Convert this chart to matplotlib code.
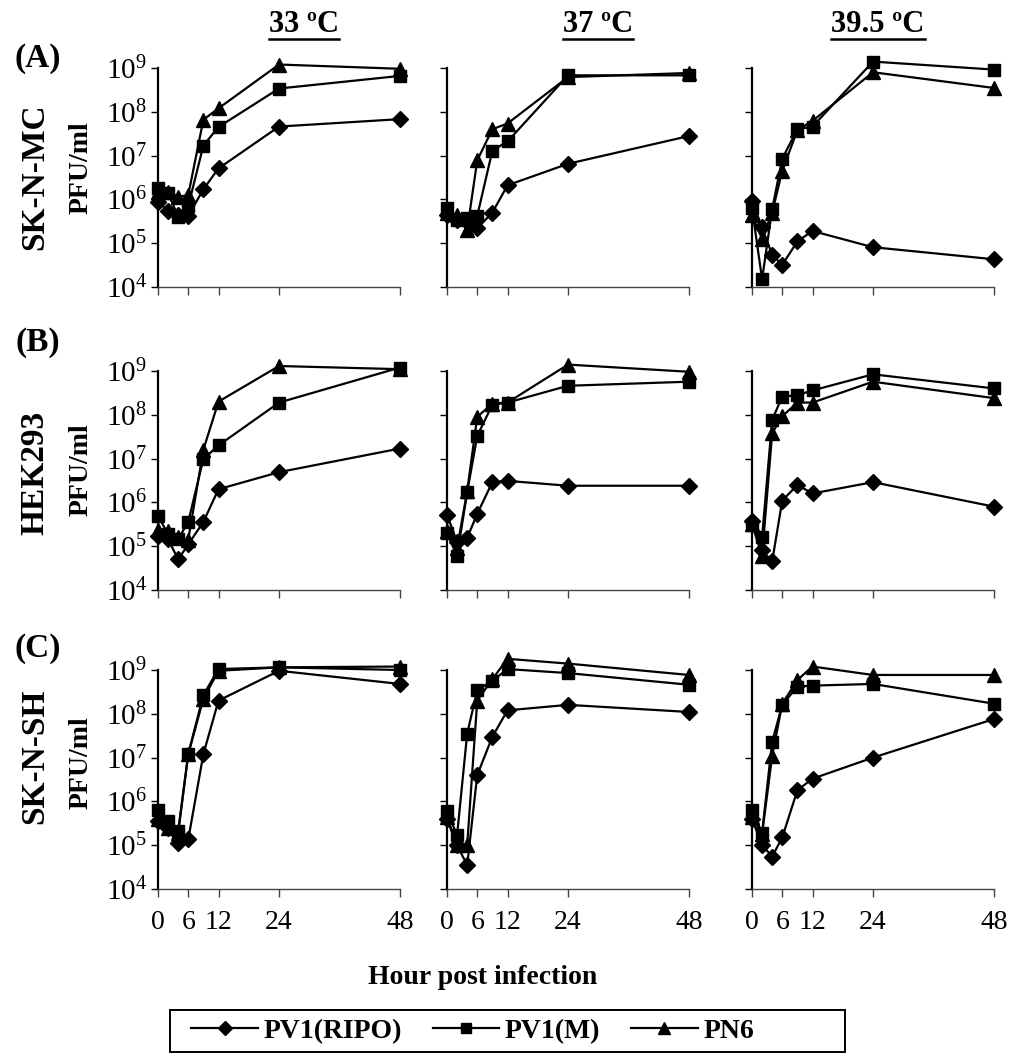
import numpy as np
import matplotlib
matplotlib.use("Agg")
import matplotlib.pyplot as plt
from matplotlib.lines import Line2D
from matplotlib.patches import Rectangle

plt.rcParams['font.family'] = ['Liberation Serif', 'DejaVu Serif']
plt.rcParams['mathtext.fontset'] = 'custom'
plt.rcParams['mathtext.rm'] = 'Liberation Serif'
plt.rcParams['mathtext.it'] = 'Liberation Serif'

# sampling times (hours post infection)
hours = [0, 2, 4, 6, 9, 12, 24, 48]
xticks = [0, 6, 12, 24, 48]

temps = ['33 ºC', '37 ºC', '39.5 ºC']
cells = ['SK-N-MC', 'HEK293', 'SK-N-SH']
panels = ['(A)', '(B)', '(C)']
series_names = ['PV1(RIPO)', 'PV1(M)', 'PN6']

# SK-N-MC
ripo_mc_33 = [8.9e5, 5.5e5, 4.3e5, 4.2e5, 1.7e6, 5.1e6, 4.6e7, 6.8e7]
m_mc_33 = [1.8e6, 1.4e6, 4.0e5, 7.0e5, 1.7e7, 4.5e7, 3.4e8, 6.6e8]
pn6_mc_33 = [1.5e6, 1.5e6, 1.15e6, 1.25e6, 6.6e7, 1.2e8, 1.2e9, 9.6e8]
ripo_mc_37 = [4.4e5, 3.4e5, 3.0e5, 2.2e5, 5.0e5, 2.1e6, 6.5e6, 2.8e7]
m_mc_37 = [6.2e5, 3.4e5, 3.7e5, 4.2e5, 1.3e7, 2.1e7, 6.8e8, 6.8e8]
pn6_mc_37 = [5.0e5, 4.4e5, 2.0e5, 7.8e6, 4.0e7, 5.4e7, 6.2e8, 7.7e8]
ripo_mc_39 = [9.3e5, 2.3e5, 5.4e4, 3.2e4, 1.1e5, 1.9e5, 8.1e4, 4.3e4]
m_mc_39 = [6.3e5, 1.5e4, 6.0e5, 8.5e6, 4.0e7, 4.6e7, 1.4e9, 9.2e8]
pn6_mc_39 = [4.3e5, 1.26e5, 5.0e5, 4.5e6, 3.8e7, 6.2e7, 8.0e8, 3.5e8]

# HEK293
ripo_hek_33 = [1.7e5, 1.45e5, 5.0e4, 1.1e5, 3.6e5, 2.0e6, 4.9e6, 1.7e7]
m_hek_33 = [4.9e5, 1.9e5, 1.45e5, 3.6e5, 9.8e6, 2.0e7, 1.9e8, 1.2e9]
pn6_hek_33 = [2.3e5, 2.2e5, 1.6e5, 1.4e5, 1.6e7, 2.0e8, 1.3e9, 1.1e9]
ripo_hek_37 = [5.2e5, 1.25e5, 1.55e5, 5.5e5, 2.9e6, 3.1e6, 2.4e6, 2.4e6]
m_hek_37 = [2.0e5, 6.0e4, 1.7e6, 3.3e7, 1.7e8, 1.9e8, 4.6e8, 5.7e8]
pn6_hek_37 = [2.2e5, 9.0e4, 1.8e6, 9.0e7, 1.8e8, 1.9e8, 1.4e9, 9.6e8]
ripo_hek_39 = [3.7e5, 8.0e4, 4.5e4, 1.1e6, 2.5e6, 1.6e6, 2.9e6, 8.0e5]
m_hek_39 = [3.0e5, 1.6e5, 7.7e7, 2.6e8, 2.8e8, 3.6e8, 8.4e8, 4.0e8]
pn6_hek_39 = [3.2e5, 6.0e4, 3.8e7, 9.3e7, 1.9e8, 1.9e8, 5.7e8, 2.4e8]

# SK-N-SH
ripo_sh_33 = [3.5e5, 2.5e5, 1.1e5, 1.35e5, 1.2e7, 2.0e8, 9.6e8, 4.8e8]
m_sh_33 = [6.3e5, 3.5e5, 2.1e5, 1.2e7, 2.7e8, 1.05e9, 1.15e9, 1.0e9]
pn6_sh_33 = [4.0e5, 2.5e5, 1.9e5, 1.2e7, 2.2e8, 9.6e8, 1.15e9, 1.2e9]
ripo_sh_37 = [3.9e5, 1.0e5, 3.5e4, 4.0e6, 3.0e7, 1.2e8, 1.6e8, 1.1e8]
m_sh_37 = [6.0e5, 1.7e5, 3.5e7, 3.5e8, 5.7e8, 1.05e9, 8.5e8, 4.6e8]
pn6_sh_37 = [4.5e5, 1.0e5, 1.0e5, 2.0e8, 6.2e8, 1.8e9, 1.4e9, 7.7e8]
ripo_sh_39 = [4.0e5, 1.0e5, 5.5e4, 1.5e5, 1.8e6, 3.3e6, 1.0e7, 7.6e7]
m_sh_39 = [6.2e5, 1.9e5, 2.3e7, 1.6e8, 4.2e8, 4.4e8, 4.8e8, 1.7e8]
pn6_sh_39 = [4.5e5, 1.8e5, 1.1e7, 1.7e8, 5.9e8, 1.2e9, 7.7e8, 7.7e8]

grid = [
    [(ripo_mc_33, m_mc_33, pn6_mc_33), (ripo_mc_37, m_mc_37, pn6_mc_37), (ripo_mc_39, m_mc_39, pn6_mc_39)],
    [(ripo_hek_33, m_hek_33, pn6_hek_33), (ripo_hek_37, m_hek_37, pn6_hek_37), (ripo_hek_39, m_hek_39, pn6_hek_39)],
    [(ripo_sh_33, m_sh_33, pn6_sh_33), (ripo_sh_37, m_sh_37, pn6_sh_37), (ripo_sh_39, m_sh_39, pn6_sh_39)],
]

markers = ['D', 's', '^']
msizes = [8, 8.5, 9.5]

W, H = 1013, 1053
fig = plt.figure(figsize=(W / 100, H / 100), dpi=100)

col_left = [158, 447, 752]
row_top = [68, 371, 670]
ax_w, ax_h = 242, 219

for r in range(3):
    for c in range(3):
        ax = fig.add_axes([col_left[c] / W, 1 - (row_top[r] + ax_h) / H, ax_w / W, ax_h / H])
        for k in range(3):
            ax.plot(hours, grid[r][c][k], color='black', lw=1.6, marker=markers[k],
                    ms=msizes[k], mfc='black', mec='black', clip_on=False, zorder=3)
        ax.set_yscale('log')
        ax.set_ylim(1e4, 1e9)
        ax.set_xlim(0, 48)
        ax.set_yticks([1e4, 1e5, 1e6, 1e7, 1e8, 1e9])
        ax.yaxis.set_minor_locator(matplotlib.ticker.NullLocator())
        ax.set_xticks(xticks)
        ax.spines['top'].set_visible(False)
        ax.spines['right'].set_visible(False)
        ax.spines['left'].set_linewidth(1.6)
        ax.spines['bottom'].set_linewidth(1.0)
        ax.spines['bottom'].set_color('#444444')
        ax.tick_params(axis='y', direction='out', length=5, width=1.0, pad=3, labelsize=21)
        ax.tick_params(axis='x', direction='out', length=6, width=1.0, color='#444444', pad=9, labelsize=20)
        ax.patch.set_alpha(0)
        if c == 0:
            ax.set_yticklabels([r'$10^{%d}$' % e for e in range(4, 10)])
        else:
            ax.set_yticklabels([])
        if r == 2:
            ax.set_xticklabels([str(t) for t in xticks])
        else:
            ax.set_xticklabels([])

# column titles (bold, underlined)
title_x = [304, 598, 878]
renderer = fig.canvas.get_renderer()
for c in range(3):
    t = fig.text(title_x[c] / W, 1 - 25 / H, temps[c], ha='center', va='center',
                 fontsize=22, fontweight='bold')
    bb = t.get_window_extent(renderer)
    y_line = (bb.y0 + 1) / H
    fig.add_artist(Line2D([bb.x0 / W, bb.x1 / W], [y_line, y_line], color='black', lw=1.8,
                          transform=fig.transFigure))

# panel letters, cell lines and y label
letter_y = [58, 343, 648]
cell_y = [177, 473, 756]
pfu_y = [168, 470, 763]
for r in range(3):
    fig.text(38 / W, 1 - letter_y[r] / H, panels[r], ha='center', va='center',
             fontsize=24, fontweight='bold')
    fig.text(35 / W, 1 - cell_y[r] / H, cells[r], ha='center', va='center',
             fontsize=24, fontweight='bold', rotation=90)
    fig.text(81 / W, 1 - pfu_y[r] / H, 'PFU/ml', ha='center', va='center',
             fontsize=20, fontweight='bold', rotation=90)

fig.text(483 / W, 1 - 977 / H, 'Hour post infection', ha='center', va='center',
         fontsize=20, fontweight='bold')

# legend: Excel-style box wider than its entries
fig.add_artist(Rectangle((170 / W, 1 - 1052 / H), 675 / W, 42 / H, transform=fig.transFigure,
                         fill=False, edgecolor='black', lw=1.4))
handles = [Line2D([], [], color='black', lw=1.6, marker=markers[k], ms=msizes[k] * 0.9,
                  mfc='black', mec='black') for k in range(3)]
leg = fig.legend(handles, series_names, loc='center left', bbox_to_anchor=(172 / W, 1 - 1031 / H),
                 ncol=3, frameon=False, prop={'weight': 'bold', 'size': 20},
                 handlelength=2.4, handletextpad=0.2, columnspacing=1.1, borderpad=0.2)

fig.savefig('out.png', dpi=100)
